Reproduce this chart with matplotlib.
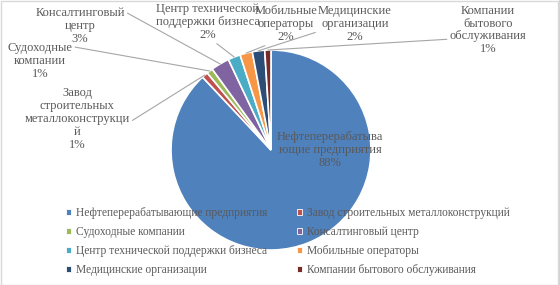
import numpy as np
import matplotlib
matplotlib.use("Agg")
import matplotlib.pyplot as plt
from matplotlib.patches import Patch, Rectangle

# data
categories = [
    "Нефтеперерабатывающие предприятия",
    "Завод строительных металлоконструкций",
    "Судоходные компании",
    "Консалтинговый центр",
    "Центр технической поддержки бизнеса",
    "Мобильные операторы",
    "Медицинские организации",
    "Компании бытового обслуживания",
]
shares = [88, 1, 1, 3, 2, 2, 2, 1]
slice_labels = [
    "Нефтеперерабатыва\nющие предприятия\n88%",
    "Завод\nстроительных\nметаллоконструкци\nй\n1%",
    "Судоходные\nкомпании\n1%",
    "Консалтинговый\nцентр\n3%",
    "Центр технической\nподдержки бизнеса\n2%",
    "Мобильные\nоператоры\n2%",
    "Медицинские\nорганизации\n2%",
    "Компании\nбытового\nобслуживания\n1%",
]
colors = ["#4F81BD", "#C0504D", "#9BBB59", "#8064A2",
          "#4BACC6", "#F79646", "#2C4D75", "#772C2A"]

plt.rcParams["font.family"] = ["Liberation Serif", "DejaVu Serif"]
TXT = "#595959"
FS = 9.0
LEG_FS = 8.3

W, H = 559, 285
fig = plt.figure(figsize=(W / 100, H / 100), dpi=100)

# pie axes: centre (271, 150) px, radius 100 px
cx, cy, r = 271, 150, 100
ax = fig.add_axes([(cx - r) / W, (H - cy - r) / H, 2 * r / W, 2 * r / H])
wedges, _ = ax.pie(shares, colors=colors, startangle=90, counterclock=False,
                   radius=1.0, wedgeprops=dict(edgecolor="white", linewidth=1.2))
ax.set_xlim(-1, 1)
ax.set_ylim(-1, 1)
ax.set_aspect("equal")
ax.axis("off")

# label layout: centre in figure pixels (from top), leader relpos
label_pos = [
    None,
    (77, 119, (1.0, 0.45)),
    (40, 61, (1.0, 0.88)),
    (80, 26, (1.0, 0.88)),
    (208, 22, (0.55, 0.0)),
    (286, 24, (0.35, 0.05)),
    (355, 24, (0.0, 0.3)),
    (488, 30, (0.0, 0.32)),
]

# largest slice label inside
ax.text(0.59, 0.0, slice_labels[0], ha="center", va="center",
        fontsize=FS, color=TXT, linespacing=1.1)

for w, lab, pos in zip(wedges[1:], slice_labels[1:], label_pos[1:]):
    ang = np.deg2rad((w.theta1 + w.theta2) / 2)
    px, py, rel = pos
    ax.annotate(lab, xy=(np.cos(ang) * 1.0, np.sin(ang) * 1.0),
                xytext=(px, H - py), textcoords="figure pixels",
                ha="center", va="center", fontsize=FS, color=TXT,
                linespacing=1.1,
                arrowprops=dict(arrowstyle="-", color="#A6A6A6", lw=0.8,
                                shrinkA=0, shrinkB=0, relpos=rel))

# legend, row-major order like the original
order = [0, 2, 4, 6, 1, 3, 5, 7]
handles = [Patch(facecolor=colors[i], edgecolor="white", lw=0.6) for i in order]
fig.legend(handles, [categories[i] for i in order], ncol=2,
           loc="lower left", bbox_to_anchor=(58 / W, 0.5 / H),
           frameon=False, fontsize=LEG_FS, labelcolor=TXT,
           handlelength=0.45, handleheight=0.45, handletextpad=0.4,
           columnspacing=2.6, labelspacing=0.62, borderpad=0.2)

fig.add_artist(Rectangle((0.5 / W, 0.5 / H), 1 - 1.5 / W, 1 - 1.5 / H,
                         transform=fig.transFigure, fill=False,
                         edgecolor="#D9D9D9", lw=1))

fig.savefig("out.png", dpi=100)
